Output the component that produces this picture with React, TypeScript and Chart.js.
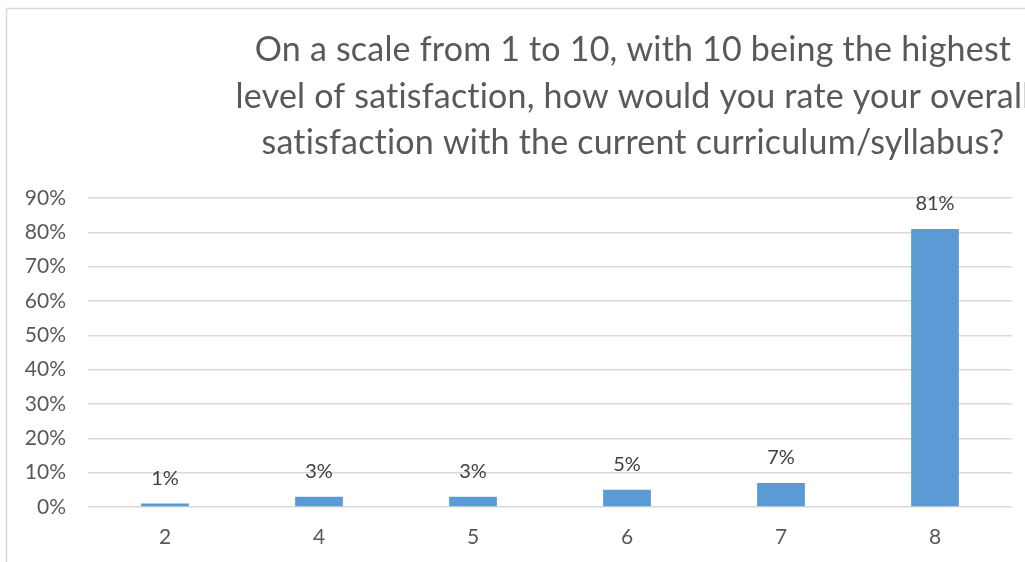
import React, { useEffect, useRef } from "react";
import { Chart, registerables } from "chart.js";

Chart.register(...registerables);

const categories = ["2", "4", "5", "6", "7", "8"];
const shares = [1, 3, 3, 5, 7, 81];
const titleLines = [
  "On a scale from 1 to 10, with 10 being the highest",
  "level of satisfaction, how would you rate your overall",
  "satisfaction with the current curriculum/syllabus?",
];

const FONT = "Lato, 'Open Sans', sans-serif";

const framePlugin = {
  id: "frame",
  beforeDraw(chart: any) {
    const ctx = chart.ctx;
    ctx.save();
    ctx.fillStyle = "#ffffff";
    ctx.fillRect(0, 0, chart.width, chart.height);
    ctx.strokeStyle = "#d9d9d9";
    ctx.lineWidth = 1.5;
    ctx.beginPath();
    ctx.moveTo(6.5, chart.height);
    ctx.lineTo(6.5, 8.5);
    ctx.lineTo(chart.width, 8.5);
    ctx.stroke();
    ctx.restore();
  },
  afterDraw(chart: any) {
    const ctx = chart.ctx;
    ctx.save();
    ctx.fillStyle = "#595959";
    ctx.font = `34px ${FONT}`;
    try {
      (ctx as any).letterSpacing = "0.2px";
    } catch (e) {}
    ctx.textAlign = "center";
    ctx.textBaseline = "alphabetic";
    titleLines.forEach((t, i) => ctx.fillText(t, 633, 61 + i * 46.5));
    try {
      (ctx as any).letterSpacing = "0px";
    } catch (e) {}
    // data labels
    ctx.fillStyle = "#404040";
    ctx.font = `20px ${FONT}`;
    ctx.textBaseline = "middle";
    const meta = chart.getDatasetMeta(0);
    meta.data.forEach((bar: any, i: number) => {
      ctx.fillText(shares[i] + "%", bar.x, bar.y - 25);
    });
    ctx.restore();
  },
};

export default function App() {
  const ref = useRef<HTMLCanvasElement>(null);
  useEffect(() => {
    const chart = new Chart(ref.current!, {
      type: "bar",
      data: {
        labels: categories,
        datasets: [
          {
            data: shares,
            backgroundColor: "#5b9bd5",
            barPercentage: 0.62,
            categoryPercentage: 0.5,
          },
        ],
      },
      options: {
        animation: false,
        responsive: false,
        layout: { padding: { top: 198, right: 13, left: 0, bottom: 0 } },
        plugins: { legend: { display: false }, tooltip: { enabled: false } },
        scales: {
          x: {
            grid: { display: false },
            border: { display: false },
            ticks: { color: "#595959", font: { family: FONT, size: 21 }, padding: 10 },
            afterFit: (s: any) => {
              s.height = 55;
            },
          },
          y: {
            min: 0,
            max: 90,
            ticks: {
              stepSize: 10,
              color: "#595959",
              font: { family: FONT, size: 21 },
              callback: (v: any) => v + "%",
              padding: 22,
            },
            grid: { color: "#d9d9d9", lineWidth: 1.5, drawTicks: false },
            border: { display: false },
            afterFit: (s: any) => {
              s.width = 88;
            },
          },
        },
      },
      plugins: [framePlugin],
    });
    return () => chart.destroy();
  }, []);
  return (
    <div style={{ position: "absolute", left: 0, top: 0, width: 1025, height: 562, overflow: "hidden" }}>
      <canvas ref={ref} width={1025} height={562} style={{ display: "block" }} />
    </div>
  );
}
